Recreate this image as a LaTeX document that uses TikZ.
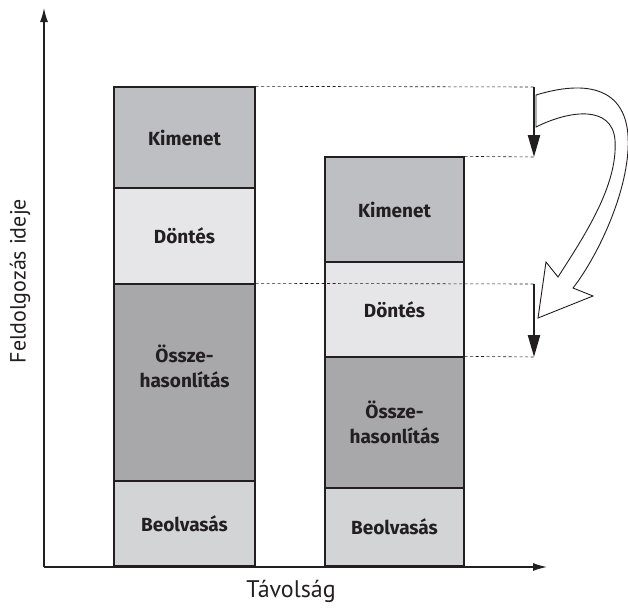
\documentclass[tikz,border=0pt]{standalone}
\usepackage{fontspec}
\setmainfont{PT Sans}
\newfontfamily\segfont{Fira Sans}
\usetikzlibrary{arrows.meta}
\definecolor{kimC}{RGB}{190,191,194}
\definecolor{dontC}{RGB}{230,230,232}
\definecolor{osszC}{RGB}{168,168,171}
\definecolor{beoC}{RGB}{211,212,214}
\definecolor{ink}{RGB}{35,31,32}
\tikzset{
  seg/.style={draw=ink, line width=1.3pt, inner sep=0pt, align=center,
    font=\segfont\bfseries\fontsize{19}{25}\selectfont, text=ink},
  axis/.style={draw=ink, line width=1.3pt, -{Latex[length=14pt,width=8pt]}},
  guide/.style={draw=ink, dash pattern=on 3pt off 2.5pt, line width=0.6pt},
  drop/.style={draw=ink, line width=2.4pt, -{Triangle[length=22pt,width=12pt]}},
  bigarrow/.style={draw=ink, fill=white, line width=0.9pt, line join=miter},
  axislabel/.style={text=ink, font=\fontsize{24}{28}\selectfont}
}
\begin{document}
\begin{tikzpicture}[x=1pt,y=-1pt]
  \useasboundingbox (0,0) rectangle (628,608);

  % axes
  \coordinate (o) at (44,567);
  \coordinate (ytip) at (44,8);
  \coordinate (xtip) at (547,567);
  \draw[axis] (o) -- (ytip);
  \draw[axis] (o) -- (xtip);
  \node[axislabel] (xlab) at (291,591) {Távolság};
  \node[axislabel, font=\fontsize{22}{26}\selectfont, rotate=90] (ylab) at (20,281) {Feldolgozás ideje};

  % left column
  \node[seg, fill=kimC,  minimum width=141pt, minimum height=101pt] (lk) at (184.5,137.5) {Kimenet};
  \node[seg, fill=dontC, minimum width=141pt, minimum height=96pt]  (ld) at (184.5,236) {Döntés};
  \node[seg, fill=osszC, minimum width=141pt, minimum height=197pt] (lo) at (184.5,382.5) {Össze-\\hasonlítás\\[8pt]};
  \node[seg, fill=beoC,  minimum width=141pt, minimum height=85pt]  (lb) at (184.5,523.5) {Beolvasás};

  % right column
  \node[seg, fill=kimC,  minimum width=139pt, minimum height=105pt] (rk) at (394.5,209.5) {Kimenet};
  \node[seg, fill=dontC, minimum width=139pt, minimum height=95pt]  (rd) at (394.5,309.5) {Döntés};
  \node[seg, fill=osszC, minimum width=139pt, minimum height=131pt] (ro) at (394.5,422.5) {Össze-\\hasonlítás};
  \node[seg, fill=beoC,  minimum width=139pt, minimum height=78pt]  (rb) at (394.5,527) {Beolvasás};

  % guide lines and shifts
  \coordinate (g1) at (534,87);
  \coordinate (g2) at (534,157);
  \coordinate (g3) at (534,284);
  \coordinate (g4) at (534,357);
  \draw[guide] (lk.north east) -- (g1);
  \draw[guide] (rk.north east) -- (g2);
  \draw[guide] (lo.north east) -- (g3);
  \draw[guide] (ro.north east) -- (g4);
  \draw[drop] (g1) -- (g2);
  \draw[drop] (g3) -- (g4);

  % curved hollow arrow
  \draw[bigarrow] (536,95) .. controls (585,80) and (632,85) .. (628,150)
    .. controls (625,200) and (595,260) .. (573,288)
    -- (593,296) -- (538,318) -- (546,262) -- (558,277)
    .. controls (585,235) and (618,185) .. (615,140)
    .. controls (612,105) and (570,110) .. (536,127) -- cycle;
\end{tikzpicture}
\end{document}
